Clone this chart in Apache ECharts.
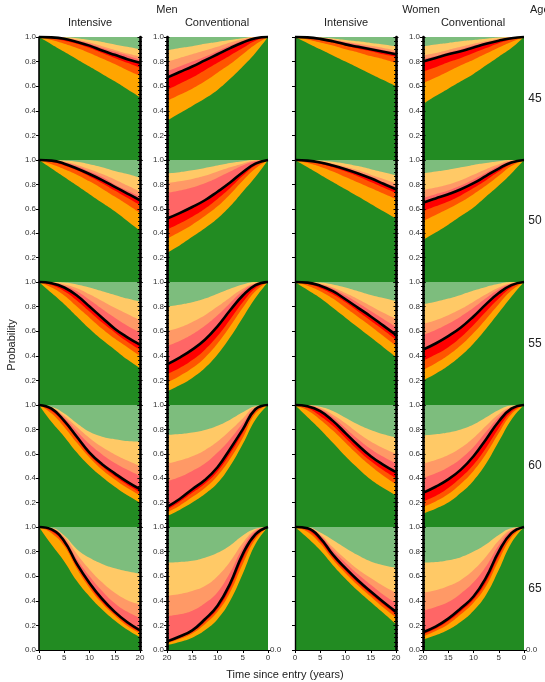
<!DOCTYPE html>
<html><head><meta charset="utf-8">
<script src="https://cdn.jsdelivr.net/npm/echarts/dist/echarts.min.js"></script>
<style>html,body{margin:0;padding:0;background:#fff}#c{width:545px;height:682px}</style>
</head><body><div id="c"></div>
<script>
// ---- data ----
const years = [0, 2.5, 5, 7.5, 10, 12.5, 15, 17.5, 20];
const ages = ['45', '50', '55', '60', '65'];
const xTicks = [0, 5, 10, 15, 20];
const yTicks = [0, 0.2, 0.4, 0.6, 0.8, 1.0];
const sexes = ['Men', 'Women'];
const arms = ['Intensive', 'Conventional'];
// each panel: [lower3, lower2, lower1, median, upper1, upper2, upper3]
const M_INT_45 = [
  [1, 0.94, 0.88, 0.82, 0.76, 0.70, 0.64, 0.575, 0.51],
  [1, 0.975, 0.945, 0.91, 0.87, 0.825, 0.78, 0.73, 0.685],
  [1, 0.99, 0.97, 0.945, 0.91, 0.87, 0.83, 0.79, 0.75],
  [1, 0.997, 0.985, 0.96, 0.93, 0.89, 0.855, 0.82, 0.79],
  [1, 0.998, 0.99, 0.972, 0.945, 0.91, 0.88, 0.85, 0.815],
  [1, 0.999, 0.993, 0.978, 0.955, 0.925, 0.895, 0.865, 0.84],
  [1, 1, 0.997, 0.99, 0.975, 0.96, 0.94, 0.92, 0.90]];
const M_CONV_45 = [
  [1, 0.87, 0.76, 0.66, 0.57, 0.50, 0.44, 0.38, 0.32],
  [1, 0.94, 0.86, 0.78, 0.71, 0.64, 0.58, 0.53, 0.48],
  [1, 0.97, 0.91, 0.85, 0.79, 0.73, 0.67, 0.62, 0.57],
  [1, 0.99, 0.955, 0.91, 0.86, 0.81, 0.76, 0.715, 0.67],
  [1, 0.995, 0.97, 0.93, 0.885, 0.84, 0.80, 0.76, 0.72],
  [1, 0.997, 0.98, 0.955, 0.92, 0.89, 0.86, 0.83, 0.80],
  [1, 1, 0.99, 0.975, 0.96, 0.945, 0.925, 0.91, 0.89]];
const W_INT_45 = [
  [1, 0.95, 0.90, 0.85, 0.80, 0.75, 0.70, 0.65, 0.60],
  [1, 0.98, 0.955, 0.93, 0.90, 0.875, 0.845, 0.82, 0.79],
  [1, 0.99, 0.975, 0.955, 0.93, 0.905, 0.885, 0.86, 0.84],
  [1, 0.997, 0.985, 0.965, 0.94, 0.92, 0.90, 0.88, 0.86],
  [1, 0.999, 0.99, 0.975, 0.955, 0.935, 0.915, 0.895, 0.875],
  [1, 1, 0.993, 0.98, 0.962, 0.945, 0.928, 0.91, 0.89],
  [1, 1, 0.996, 0.988, 0.976, 0.965, 0.952, 0.94, 0.925]];
const W_CONV_45 = [
  [1, 0.91, 0.84, 0.77, 0.70, 0.64, 0.58, 0.52, 0.455],
  [1, 0.96, 0.915, 0.865, 0.815, 0.77, 0.72, 0.67, 0.625],
  [1, 0.98, 0.95, 0.91, 0.87, 0.83, 0.795, 0.755, 0.72],
  [1, 0.99, 0.97, 0.945, 0.915, 0.885, 0.86, 0.83, 0.80],
  [1, 0.995, 0.978, 0.955, 0.93, 0.90, 0.875, 0.845, 0.82],
  [1, 0.997, 0.985, 0.965, 0.945, 0.92, 0.895, 0.87, 0.85],
  [1, 1, 0.995, 0.985, 0.975, 0.965, 0.952, 0.94, 0.925]];
const M_INT_50 = [
  [1, 0.93, 0.86, 0.79, 0.72, 0.65, 0.58, 0.50, 0.42],
  [1, 0.965, 0.925, 0.88, 0.825, 0.765, 0.70, 0.635, 0.565],
  [1, 0.985, 0.955, 0.915, 0.865, 0.81, 0.75, 0.69, 0.63],
  [1, 0.995, 0.97, 0.93, 0.885, 0.835, 0.78, 0.725, 0.67],
  [1, 0.997, 0.98, 0.95, 0.905, 0.86, 0.80, 0.75, 0.70],
  [1, 0.998, 0.985, 0.96, 0.925, 0.885, 0.84, 0.79, 0.74],
  [1, 1, 0.995, 0.985, 0.965, 0.94, 0.91, 0.885, 0.855]];
const M_CONV_50 = [
  [1, 0.86, 0.74, 0.62, 0.52, 0.44, 0.37, 0.30, 0.24],
  [1, 0.93, 0.83, 0.72, 0.62, 0.54, 0.47, 0.41, 0.355],
  [1, 0.955, 0.87, 0.77, 0.68, 0.60, 0.535, 0.48, 0.43],
  [1, 0.97, 0.90, 0.815, 0.74, 0.67, 0.615, 0.565, 0.52],
  [1, 0.99, 0.955, 0.905, 0.855, 0.81, 0.775, 0.75, 0.73],
  [1, 0.995, 0.97, 0.94, 0.905, 0.87, 0.845, 0.825, 0.81],
  [1, 1, 0.99, 0.975, 0.955, 0.935, 0.915, 0.90, 0.89]];
const W_INT_50 = [
  [1, 0.94, 0.88, 0.82, 0.76, 0.70, 0.64, 0.58, 0.52],
  [1, 0.975, 0.945, 0.905, 0.86, 0.815, 0.77, 0.725, 0.68],
  [1, 0.99, 0.97, 0.94, 0.905, 0.865, 0.82, 0.775, 0.73],
  [1, 0.995, 0.98, 0.955, 0.925, 0.89, 0.85, 0.805, 0.76],
  [1, 0.997, 0.985, 0.962, 0.935, 0.90, 0.865, 0.82, 0.78],
  [1, 0.998, 0.99, 0.97, 0.945, 0.915, 0.88, 0.845, 0.81],
  [1, 1, 0.995, 0.985, 0.97, 0.95, 0.925, 0.90, 0.875]];
const W_CONV_50 = [
  [1, 0.89, 0.79, 0.70, 0.61, 0.54, 0.47, 0.405, 0.345],
  [1, 0.95, 0.87, 0.79, 0.72, 0.655, 0.60, 0.55, 0.50],
  [1, 0.97, 0.905, 0.835, 0.77, 0.71, 0.66, 0.62, 0.58],
  [1, 0.98, 0.93, 0.87, 0.81, 0.76, 0.72, 0.685, 0.65],
  [1, 0.99, 0.95, 0.895, 0.84, 0.79, 0.75, 0.72, 0.69],
  [1, 0.995, 0.965, 0.925, 0.88, 0.835, 0.80, 0.775, 0.755],
  [1, 1, 0.99, 0.975, 0.96, 0.94, 0.92, 0.905, 0.89]];
const M_INT_55 = [
  [1, 0.91, 0.82, 0.72, 0.62, 0.53, 0.45, 0.37, 0.30],
  [1, 0.955, 0.89, 0.80, 0.71, 0.62, 0.54, 0.47, 0.40],
  [1, 0.975, 0.925, 0.85, 0.76, 0.67, 0.59, 0.515, 0.45],
  [1, 0.99, 0.955, 0.89, 0.80, 0.71, 0.62, 0.55, 0.49],
  [1, 0.993, 0.97, 0.925, 0.855, 0.78, 0.71, 0.645, 0.59],
  [1, 0.995, 0.98, 0.95, 0.90, 0.845, 0.79, 0.74, 0.69],
  [1, 1, 0.995, 0.98, 0.955, 0.925, 0.895, 0.865, 0.84]];
const M_CONV_55 = [
  [1, 0.87, 0.71, 0.55, 0.41, 0.30, 0.22, 0.16, 0.11],
  [1, 0.925, 0.79, 0.64, 0.50, 0.385, 0.30, 0.235, 0.18],
  [1, 0.95, 0.835, 0.695, 0.56, 0.45, 0.365, 0.30, 0.25],
  [1, 0.975, 0.89, 0.77, 0.64, 0.53, 0.45, 0.385, 0.33],
  [1, 0.985, 0.925, 0.83, 0.73, 0.645, 0.575, 0.52, 0.48],
  [1, 0.99, 0.945, 0.875, 0.80, 0.73, 0.675, 0.63, 0.60],
  [1, 1, 0.98, 0.945, 0.905, 0.865, 0.835, 0.815, 0.80]];
const W_INT_55 = [
  [1, 0.935, 0.87, 0.79, 0.71, 0.63, 0.55, 0.47, 0.39],
  [1, 0.97, 0.925, 0.865, 0.79, 0.715, 0.64, 0.56, 0.48],
  [1, 0.985, 0.95, 0.90, 0.835, 0.76, 0.685, 0.61, 0.53],
  [1, 0.995, 0.97, 0.925, 0.86, 0.79, 0.72, 0.645, 0.57],
  [1, 0.997, 0.98, 0.945, 0.89, 0.83, 0.765, 0.70, 0.635],
  [1, 0.998, 0.985, 0.955, 0.91, 0.86, 0.805, 0.75, 0.70],
  [1, 1, 0.995, 0.98, 0.955, 0.925, 0.895, 0.87, 0.845]];
const W_CONV_55 = [
  [1, 0.88, 0.75, 0.62, 0.50, 0.40, 0.32, 0.255, 0.20],
  [1, 0.93, 0.82, 0.70, 0.585, 0.485, 0.405, 0.34, 0.285],
  [1, 0.955, 0.865, 0.76, 0.65, 0.55, 0.47, 0.41, 0.36],
  [1, 0.975, 0.91, 0.82, 0.72, 0.63, 0.56, 0.50, 0.45],
  [1, 0.985, 0.94, 0.87, 0.79, 0.72, 0.66, 0.61, 0.57],
  [1, 0.99, 0.955, 0.90, 0.84, 0.78, 0.73, 0.69, 0.66],
  [1, 1, 0.985, 0.96, 0.93, 0.895, 0.865, 0.84, 0.82]];
const M_INT_60 = [
  [1, 0.86, 0.74, 0.61, 0.50, 0.41, 0.33, 0.26, 0.20],
  [1, 0.93, 0.82, 0.69, 0.57, 0.47, 0.39, 0.32, 0.26],
  [1, 0.95, 0.85, 0.72, 0.59, 0.495, 0.415, 0.345, 0.285],
  [1, 0.97, 0.87, 0.74, 0.61, 0.515, 0.44, 0.37, 0.31],
  [1, 0.975, 0.895, 0.785, 0.68, 0.595, 0.525, 0.47, 0.42],
  [1, 0.98, 0.91, 0.82, 0.73, 0.655, 0.595, 0.545, 0.50],
  [1, 0.985, 0.93, 0.85, 0.78, 0.74, 0.72, 0.705, 0.70]];
const M_CONV_60 = [
  [1, 0.88, 0.68, 0.50, 0.36, 0.27, 0.20, 0.14, 0.09],
  [1, 0.93, 0.73, 0.56, 0.42, 0.32, 0.245, 0.175, 0.12],
  [1, 0.95, 0.77, 0.60, 0.455, 0.355, 0.28, 0.205, 0.14],
  [1, 0.965, 0.80, 0.64, 0.49, 0.385, 0.31, 0.23, 0.165],
  [1, 0.975, 0.85, 0.72, 0.61, 0.52, 0.46, 0.41, 0.375],
  [1, 0.985, 0.89, 0.79, 0.70, 0.63, 0.58, 0.545, 0.52],
  [1, 0.99, 0.94, 0.88, 0.83, 0.795, 0.775, 0.762, 0.755]];
const W_INT_60 = [
  [1, 0.90, 0.80, 0.69, 0.58, 0.48, 0.39, 0.32, 0.26],
  [1, 0.955, 0.88, 0.79, 0.69, 0.59, 0.50, 0.42, 0.35],
  [1, 0.975, 0.91, 0.83, 0.73, 0.63, 0.54, 0.465, 0.40],
  [1, 0.99, 0.95, 0.87, 0.77, 0.67, 0.58, 0.51, 0.45],
  [1, 0.995, 0.965, 0.90, 0.81, 0.72, 0.64, 0.575, 0.52],
  [1, 0.997, 0.975, 0.92, 0.85, 0.77, 0.70, 0.645, 0.60],
  [1, 0.998, 0.985, 0.95, 0.895, 0.84, 0.795, 0.76, 0.735]];
const W_CONV_60 = [
  [1, 0.88, 0.70, 0.52, 0.38, 0.28, 0.20, 0.15, 0.11],
  [1, 0.925, 0.77, 0.60, 0.46, 0.355, 0.27, 0.21, 0.165],
  [1, 0.945, 0.81, 0.65, 0.51, 0.405, 0.32, 0.255, 0.21],
  [1, 0.97, 0.865, 0.72, 0.58, 0.47, 0.39, 0.33, 0.28],
  [1, 0.98, 0.90, 0.78, 0.655, 0.56, 0.49, 0.44, 0.40],
  [1, 0.985, 0.925, 0.83, 0.73, 0.65, 0.59, 0.55, 0.52],
  [1, 0.995, 0.96, 0.90, 0.84, 0.80, 0.775, 0.76, 0.75]];
const M_INT_65 = [
  [1, 0.855, 0.72, 0.56, 0.435, 0.33, 0.24, 0.165, 0.105],
  [1, 0.95, 0.845, 0.66, 0.505, 0.38, 0.28, 0.195, 0.135],
  [1, 0.965, 0.865, 0.68, 0.525, 0.395, 0.295, 0.21, 0.147],
  [1, 0.98, 0.885, 0.70, 0.545, 0.415, 0.31, 0.225, 0.16],
  [1, 0.985, 0.905, 0.74, 0.60, 0.48, 0.38, 0.31, 0.26],
  [1, 0.99, 0.92, 0.78, 0.655, 0.55, 0.465, 0.405, 0.37],
  [1, 0.993, 0.93, 0.82, 0.75, 0.70, 0.665, 0.64, 0.62]];
const M_CONV_65 = [
  [1, 0.86, 0.62, 0.40, 0.25, 0.16, 0.10, 0.065, 0.04],
  [1, 0.90, 0.70, 0.47, 0.31, 0.21, 0.135, 0.09, 0.055],
  [1, 0.92, 0.74, 0.505, 0.335, 0.23, 0.148, 0.10, 0.063],
  [1, 0.94, 0.78, 0.54, 0.36, 0.25, 0.16, 0.11, 0.07],
  [1, 0.965, 0.83, 0.63, 0.47, 0.38, 0.32, 0.29, 0.275],
  [1, 0.975, 0.87, 0.72, 0.60, 0.52, 0.48, 0.455, 0.44],
  [1, 0.985, 0.93, 0.85, 0.79, 0.75, 0.725, 0.715, 0.71]];
const W_INT_65 = [
  [1, 0.91, 0.81, 0.69, 0.58, 0.48, 0.39, 0.30, 0.21],
  [1, 0.96, 0.865, 0.735, 0.625, 0.525, 0.435, 0.345, 0.265],
  [1, 0.975, 0.885, 0.755, 0.645, 0.545, 0.455, 0.37, 0.29],
  [1, 0.99, 0.91, 0.775, 0.665, 0.565, 0.475, 0.39, 0.31],
  [1, 0.993, 0.93, 0.81, 0.71, 0.615, 0.53, 0.45, 0.38],
  [1, 0.995, 0.94, 0.835, 0.74, 0.655, 0.585, 0.52, 0.465],
  [1, 0.997, 0.955, 0.895, 0.83, 0.77, 0.72, 0.69, 0.67]];
const W_CONV_65 = [
  [1, 0.87, 0.65, 0.45, 0.32, 0.23, 0.165, 0.12, 0.085],
  [1, 0.915, 0.73, 0.52, 0.385, 0.29, 0.21, 0.155, 0.11],
  [1, 0.935, 0.765, 0.555, 0.41, 0.315, 0.235, 0.172, 0.128],
  [1, 0.95, 0.80, 0.59, 0.435, 0.34, 0.255, 0.19, 0.145],
  [1, 0.97, 0.85, 0.68, 0.55, 0.46, 0.39, 0.35, 0.32],
  [1, 0.98, 0.89, 0.76, 0.65, 0.57, 0.52, 0.485, 0.465],
  [1, 0.99, 0.935, 0.86, 0.80, 0.755, 0.73, 0.715, 0.71]];

const panels = [
  [M_INT_45, M_CONV_45, W_INT_45, W_CONV_45],
  [M_INT_50, M_CONV_50, W_INT_50, W_CONV_50],
  [M_INT_55, M_CONV_55, W_INT_55, W_CONV_55],
  [M_INT_60, M_CONV_60, W_INT_60, W_CONV_60],
  [M_INT_65, M_CONV_65, W_INT_65, W_CONV_65]];

// ---- style / layout ----
const FONT = '"Liberation Sans", Arial, sans-serif';
const colLeft = [39, 167, 295, 423];
const colW = 101;
const rowTops = [37, 160, 282, 405, 527];
const rowBottom = 650;
const LIGHT_GREEN = '#7dbd7d', DARK_GREEN = '#228b22';
const fillOrder = [6, 5, 4, 3, 2, 1, 0];
const fillColor = {6: '#ffc966', 5: '#ff9966', 4: '#ff6666', 3: '#ff0000', 2: '#ff5500', 1: '#ffa500', 0: DARK_GREEN};
const SMOOTH = 0.45;

const grids = [], xAxes = [], yAxes = [], series = [];
const labelStyle = {fontSize: 8, color: '#333', fontFamily: FONT};
const fmtY = (last) => (v) => (v === 0 && !last) ? '' : v.toFixed(1);
const AZ = 20;
const tickLine = {color: '#000', width: 1};
const line = (show, width) => ({show: show, onZero: false, lineStyle: {color: '#000', width: width || 1}});

for (let r = 0; r < 5; r++) {
  const top = rowTops[r];
  const h = (r < 4 ? rowTops[r + 1] : rowBottom) - top;
  for (let c = 0; c < 4; c++) {
    const last = r === 4;
    // main grid
    const g = grids.length;
    grids.push({left: colLeft[c], top: top, width: colW, height: h,
      show: true, backgroundColor: LIGHT_GREEN, borderWidth: 0});
    xAxes.push({type: 'value', gridIndex: g, min: 0, max: 20, interval: 5, inverse: (c % 2 === 1),
      show: last, z: AZ,
      axisLine: line(true, 1),
      axisTick: {show: true, length: 3, lineStyle: tickLine},
      axisLabel: Object.assign({margin: 4}, labelStyle),
      splitLine: {show: false}});
    const base = {type: 'value', min: 0, max: 1, interval: 0.2, z: AZ, splitLine: {show: false}};
    const mainIdx = yAxes.length;
    if (c === 0) {
      yAxes.push(Object.assign({}, base, {gridIndex: g, position: 'left',
        axisLine: line(true, 1.6),
        axisTick: {show: true, length: 3, lineStyle: tickLine},
        axisLabel: Object.assign({margin: 3, formatter: fmtY(last)}, labelStyle)}));
    } else if (c === 2) {
      yAxes.push(Object.assign({}, base, {gridIndex: g, position: 'left',
        axisLine: line(true, 1.4),
        axisTick: {show: true, length: 3, lineStyle: tickLine},
        axisLabel: {show: false}}));
    } else {
      yAxes.push(Object.assign({}, base, {gridIndex: g, position: 'left',
        axisLine: line(true, 2.6),
        axisTick: {show: true, length: 3, lineStyle: tickLine},
        minorTick: {show: true, splitNumber: 6, length: 2, lineStyle: tickLine},
        axisLabel: Object.assign({margin: 3, formatter: fmtY(last)}, labelStyle)}));
    }
    if (c === 0 || c === 2) {
      yAxes.push(Object.assign({}, base, {gridIndex: g, position: 'right',
        axisLine: line(true, 2.6),
        axisTick: {show: true, length: 2.5, lineStyle: tickLine},
        minorTick: {show: true, splitNumber: 6, length: 2, lineStyle: tickLine},
        axisLabel: {show: false}}));
    } else if (last) {
      yAxes.push(Object.assign({}, base, {gridIndex: g, position: 'right',
        axisLine: line(false),
        axisTick: {show: true, length: 3, customValues: [0], lineStyle: tickLine},
        axisLabel: Object.assign({margin: 2, customValues: [0], formatter: (v) => v.toFixed(1)}, labelStyle)}));
    }
    // overlay grid for inward ticks on the thick edge
    const go = grids.length;
    grids.push({left: colLeft[c], top: top, width: colW, height: h, show: false});
    xAxes.push({type: 'value', gridIndex: go, min: 0, max: 20, show: false, axisLine: line(false)});
    yAxes.push(Object.assign({}, base, {gridIndex: go, position: (c % 2 === 0) ? 'right' : 'left',
      axisLine: line(false),
      axisTick: {show: true, inside: true, length: 2.5, lineStyle: tickLine},
      minorTick: {show: true, splitNumber: 6, length: 2, lineStyle: tickLine},
      axisLabel: {show: false}}));

    const P = panels[r][c];
    fillOrder.forEach((k, i) => {
      series.push({type: 'line', xAxisIndex: g, yAxisIndex: mainIdx,
        data: years.map((x, j) => [x, P[k][j]]),
        smooth: SMOOTH, symbol: 'none', showSymbol: false, silent: true,
        lineStyle: {width: 0}, areaStyle: {color: fillColor[k], opacity: 1, origin: 'start'},
        z: 2 + i * 0.01});
    });
    series.push({type: 'line', xAxisIndex: g, yAxisIndex: mainIdx,
      data: years.map((x, j) => [x, P[3][j]]),
      smooth: SMOOTH, symbol: 'none', showSymbol: false, silent: true, clip: false,
      lineStyle: {color: '#000', width: 2.6}, z: 3});
  }
}

const txt = (text, x, y, size, align, rot) => ({type: 'text', x: x, y: y, rotation: rot || 0,
  style: {text: text, fontSize: size, fontFamily: FONT, fill: '#222', textAlign: align || 'center', textVerticalAlign: 'middle'}});
const graphic = [
  txt(sexes[0], 167, 10, 11), txt(sexes[1], 421, 10, 11),
  txt(arms[0], 90, 23, 11), txt(arms[1], 217, 23, 11),
  txt(arms[0], 346, 23, 11), txt(arms[1], 473, 23, 11),
  txt('Age', 530, 10, 11, 'left'),
  txt('Probability', 12, 345, 11, 'center', Math.PI / 2),
  txt('Time since entry (years)', 285, 675, 11)
];
ages.forEach((a, r) => {
  const top = rowTops[r];
  const h = (r < 4 ? rowTops[r + 1] : rowBottom) - top;
  graphic.push(txt(a, 535, top + h / 2, 12));
});

const chart = echarts.init(document.getElementById('c'), null, {renderer: 'canvas'});
chart.setOption({animation: false, grid: grids, xAxis: xAxes, yAxis: yAxes, series: series, graphic: graphic});
</script></body></html>
